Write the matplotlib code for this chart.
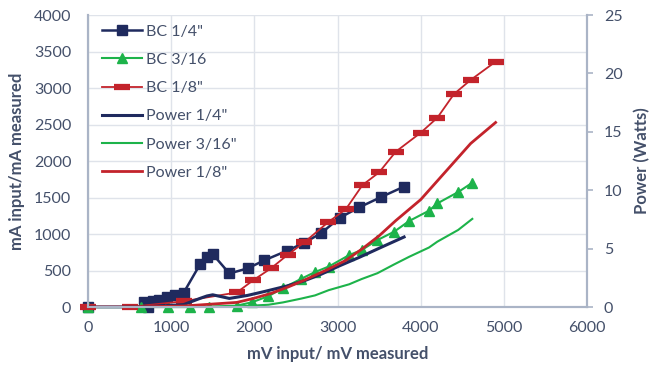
import matplotlib
matplotlib.use("Agg")
import matplotlib.pyplot as plt

plt.rcParams['font.family'] = ['Lato', 'DejaVu Sans']

# BC 1/4" (mA) and Power 1/4" (W)
x_q = [0, 720, 680, 780, 860, 950, 1050, 1150, 1350, 1430, 1500, 1700, 1920,
       2120, 2390, 2600, 2800, 3030, 3260, 3520, 3800]
bc_q = [0, 0, 70, 80, 100, 140, 165, 195, 590, 690, 725, 460, 530,
        640, 770, 880, 1010, 1225, 1365, 1505, 1650]
pw_q = [0, 0, 0.04, 0.06, 0.09, 0.13, 0.17, 0.21, 0.75, 0.95, 1.05, 0.74, 1.0,
        1.33, 1.8, 2.25, 2.8, 3.55, 4.25, 5.1, 6.0]

# BC 3/16 (mA) and Power 3/16" (W)
x_t = [0, 640, 960, 1230, 1450, 1790, 1970, 2170, 2345, 2560, 2730, 2895,
       3140, 3290, 3480, 3680, 3860, 4100, 4200, 4450, 4620]
bc_t = [0, 0, 0, 0, 5, 20, 65, 150, 260, 385, 480, 555,
        712, 781, 918, 1032, 1178, 1320, 1420, 1575, 1703]
pw_t = [0, 0, 0, 0, 0.01, 0.05, 0.12, 0.2, 0.4, 0.72, 1.0, 1.45,
        1.95, 2.4, 2.9, 3.65, 4.3, 5.1, 5.6, 6.6, 7.55]

# BC 1/8" (mA) and Power 1/8" (W)
x_e = [0, 500, 1150, 1790, 1990, 2200, 2400, 2600, 2890, 3100, 3300, 3500,
       3700, 4000, 4200, 4400, 4600, 4900]
bc_e = [0, 0, 80, 200, 370, 530, 715, 886, 1165, 1340, 1671, 1845,
        2128, 2388, 2593, 2918, 3110, 3361]
pw_e = [0, 0, 0.09, 0.4, 0.74, 1.17, 1.7, 2.3, 3.25, 4.0, 5.0, 6.1,
        7.4, 9.2, 10.8, 12.4, 14.0, 15.8]

navy = '#1f2a5e'
green = '#1db34a'
red = '#c3232b'
txt = '#44506a'
axc = '#aab4c6'
grid = '#dfe3ea'

fig, ax = plt.subplots(figsize=(6.56, 3.66), dpi=100)
fig.subplots_adjust(left=0.134, right=0.895, bottom=0.161, top=0.959)
ax2 = ax.twinx()

# power on the right axis (watts)
l4, = ax2.plot(x_q, pw_q, color=navy, lw=2.2, label='Power 1/4"')
l5, = ax2.plot(x_t, pw_t, color=green, lw=1.5, label='Power 3/16"')
l6, = ax2.plot(x_e, pw_e, color=red, lw=2.0, label='Power 1/8"')

# current on the left axis (mA)
b1, = ax.plot(x_q, bc_q, color=navy, lw=1.8, marker='s', ms=7,
              label='BC 1/4"', clip_on=False, zorder=3)
b2, = ax.plot(x_t, bc_t, color=green, lw=1.5, marker='^', ms=7,
              label='BC 3/16', clip_on=False, zorder=3)
b3, = ax.plot(x_e, bc_e, color=red, lw=1.3, marker='_', ms=12, mew=4.5,
              label='BC 1/8"', clip_on=False, zorder=3)

ax.set_xlim(0, 6000)
ax.set_ylim(0, 4000)
ax2.set_ylim(0, 25)
ax.set_xticks(range(0, 6001, 1000))
ax.set_yticks(range(0, 4001, 500))
ax2.set_yticks(range(0, 26, 5))

ax.grid(True, color=grid, lw=1, zorder=0)
ax.set_axisbelow(True)
for a in (ax, ax2):
    a.spines['top'].set_visible(False)
    for s in ('left', 'right', 'bottom'):
        a.spines[s].set_color(axc)
        a.spines[s].set_linewidth(1.5)
ax.tick_params(axis='both', length=0, labelsize=11.5, labelcolor=txt)
ax.tick_params(axis='x', pad=10)
ax.tick_params(axis='y', pad=12)
ax2.tick_params(axis='y', length=4, color=axc, width=1.2, labelsize=11.5,
                labelcolor=txt, pad=8)

ax.set_xlabel('mV input/ mV measured', fontsize=12, fontweight='bold', color=txt,
              labelpad=8)
ax.set_ylabel('mA input/mA measured', fontsize=12, fontweight='bold', color=txt,
              labelpad=6)
ax2.set_ylabel('Power (Watts)', fontsize=12, fontweight='bold', color=txt, labelpad=8)

handles = [b1, b2, b3, l4, l5, l6]
leg = ax2.legend(handles, [h.get_label() for h in handles],
                 loc='upper left', frameon=False, fontsize=11.5, handlelength=2.45,
                 labelspacing=0.88, handletextpad=0.25, borderaxespad=0.2,
                 bbox_to_anchor=(0.01, 1.0))
for t in leg.get_texts():
    t.set_color(txt)

fig.savefig('out.png', dpi=100)
